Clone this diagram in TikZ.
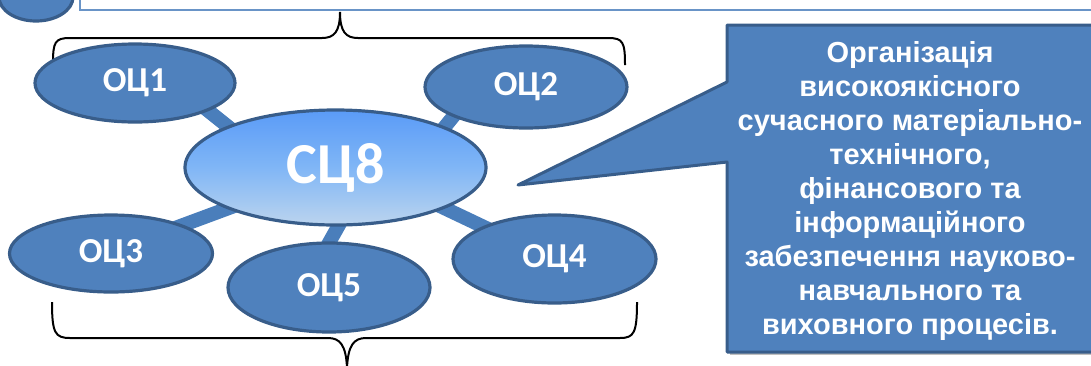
\documentclass[tikz,border=0pt]{standalone}
\usepackage{fontspec}
\newfontfamily\calfont{Carlito}
\newfontfamily\arfont{Liberation Sans}
\usetikzlibrary{shapes.geometric,backgrounds}
\definecolor{accent}{HTML}{4F81BD}
\definecolor{edgec}{HTML}{385D8A}
\definecolor{barc}{HTML}{4A7EBB}
\definecolor{topc}{HTML}{5A9BF7}
\definecolor{midc}{HTML}{80B6F6}
\definecolor{botc}{HTML}{BBD4EE}
\tikzset{
  oc/.style={ellipse, draw=edgec, line width=1.6pt, fill=accent, inner sep=0pt,
    text=white, font=\calfont\bfseries\fontsize{17.5pt}{19pt}\selectfont},
  sc/.style={ellipse, draw=edgec, line width=1.6pt, top color=topc, bottom color=botc,
    middle color=midc, inner sep=0pt,
    text=white, font=\calfont\bfseries\fontsize{29pt}{32pt}\selectfont},
  bar/.style={barc, line width=7pt},
  brace/.style={black, line width=1pt},
}
\begin{document}
\begin{tikzpicture}[x=0.5pt,y=-0.5pt]
\useasboundingbox (0,0) rectangle (1091,365);
% top bar and badge
\node[draw=accent!85, line width=1pt, fill=white, minimum width=520pt, minimum height=30pt,
  anchor=south west, inner sep=0pt] (topbar) at (79,11) {};
\node[ellipse, draw=edgec, line width=1.6pt, fill=accent, minimum width=37pt,
  minimum height=24pt, inner sep=0pt] (badge) at (36,-3) {};
% braces
\draw[brace] (53,63) .. controls (53,42) and (55,38) .. (70,38) -- (322,38)
  .. controls (334,38) and (340,32) .. (340,12)
  .. controls (340,32) and (346,38) .. (358,38) -- (608,38)
  .. controls (623,38) and (625,42) .. (625,65);
\draw[brace] (52,302) .. controls (52,333) and (55,338) .. (70,338) -- (328,338)
  .. controls (340,338) and (346,345) .. (347,368)
  .. controls (348,345) and (354,338) .. (366,338) -- (620,338)
  .. controls (634,338) and (637,333) .. (637,302);
% nodes
\node[oc, minimum width=100pt, minimum height=39pt] (oc1) at (135,83) {ОЦ1};
\node[oc, minimum width=101pt, minimum height=41pt] (oc2) at (526,87) {ОЦ2};
\node[oc, minimum width=101.5pt, minimum height=38.5pt] (oc3) at (111,253.5) {ОЦ3};
\node[oc, minimum width=101.5pt, minimum height=44pt] (oc4) at (554.5,259) {ОЦ4};
\node[oc, minimum width=101pt, minimum height=44.5pt] (oc5) at (329,287.5) {ОЦ5};
\node[sc, minimum width=150.5pt, minimum height=57.5pt] (sc8) at (335.5,167.5) {СЦ8};
% connector bars
\begin{scope}[on background layer]
\draw[bar] ([shift={(66,22)}]oc1.center) -- ([shift={(-99.5,-34.5)}]sc8.center);
\draw[bar] ([shift={(-65,20)}]oc2.center) -- ([shift={(103.5,-33.5)}]sc8.center);
\draw[bar] ([shift={(64.5,-25.7)}]oc3.center) -- ([shift={(-99,37.7)}]sc8.center);
\draw[bar] ([shift={(-63.3,-28.6)}]oc4.center) -- ([shift={(99.3,36.1)}]sc8.center);
\draw[bar] ([shift={(-3.9,-37.8)}]oc5.center) -- ([shift={(8.4,48.8)}]sc8.center);
\end{scope}
% callout
\coordinate (tip) at (518,185);
\fill[black!25] (730,28) -- (1100,28) -- (1100,355) -- (730,355) -- cycle;
\draw[draw=edgec, line width=1.5pt, fill=accent, line join=round]
  (727,25) -- (1100,25) -- (1100,352) -- (727,352) -- (727,162) -- (tip) -- (727,82) -- cycle;
\node[text=white, align=center, font=\arfont\bfseries\fontsize{14.5pt}{17pt}\selectfont]
  (callout) at (910,191) {Організація\\високоякісного\\сучасного матеріально-\\технічного,\\фінансового та\\інформаційного\\забезпечення науково-\\навчального та\\виховного процесів.};
\end{tikzpicture}
\end{document}
